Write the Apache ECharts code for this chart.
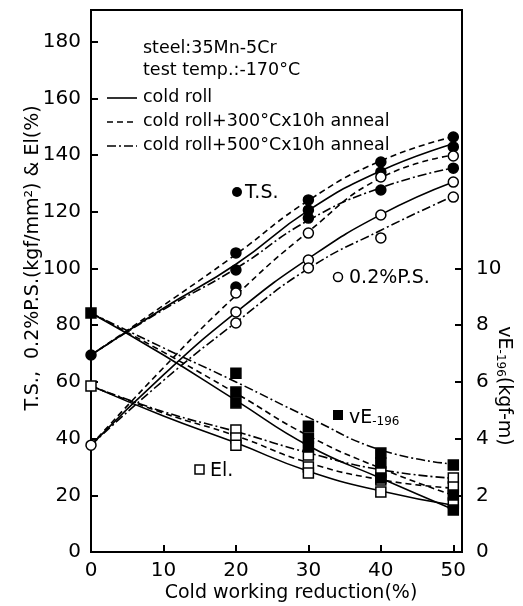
<!DOCTYPE html>
<html>
<head>
<meta charset="utf-8">
<script src="https://cdn.jsdelivr.net/npm/echarts@6/dist/echarts.min.js"></script>
<style>
  html, body { margin: 0; padding: 0; background: #fff; }
  #chart { width: 523px; height: 606px; }
</style>
</head>
<body>
<div id="chart"></div>
<script>
  // fitted curves at these reductions (%)
  var fitX = [0, 10, 20, 30, 40, 50];
  var tsRoll = [69.5, 86, 101.5, 120.5, 134.5, 144];
  var ts300 = [69.5, 87, 105, 124, 138, 146.5];
  var ts500 = [69.5, 85.5, 100, 117, 128.5, 135.5];
  var psRoll = [37.7, 62.5, 84.5, 103.5, 119, 130.5];
  var ps300 = [37.7, 65, 90.5, 113, 132, 140];
  var ps500 = [37.7, 60.5, 81, 100, 113.5, 125.5];
  var elRoll = [58.6, 48, 38.5, 28.5, 21.5, 16.5];
  var el300 = [58.6, 49, 41, 31.5, 25.5, 22.5];
  var el500 = [58.6, 49.5, 42.5, 35, 29, 26];
  var veRoll = [8.43, 6.95, 5.35, 3.75, 2.6, 1.5];
  var ve300 = [8.43, 7.05, 5.6, 4.1, 2.95, 2.0];
  var ve500 = [8.43, 7.2, 6.0, 4.75, 3.6, 3.1];

  // measured points
  var ptX = [0, 20, 20, 20, 30, 30, 30, 40, 40, 40, 50, 50, 50];
  var tsPts = [69.5, 105.5, 99.5, 93.5, 124.2, 120.6, 117.8, 137.6, 134, 127.7, 146.4, 142.9, 135.4];
  var psPts = [37.7, 91.4, 84.7, 80.8, 112.5, 103, 100.2, 132.3, 118.9, 110.8, 139.7, 130.5, 125.2];
  var elPts = [58.6, 43, 40.2, 37.7, 34.2, 30, 27.9, 28.2, 25.4, 21.2, 26.1, 22.9, 17.3];
  var vePts = [8.43, 6.31, 5.64, 5.26, 4.44, 4.02, 3.70, 3.49, 3.14, 2.61, 3.07, 2.01, 1.48];

  var xTicks = [0, 10, 20, 30, 40, 50];
  var leftTicks = [0, 20, 40, 60, 80, 100, 120, 140, 160, 180];
  var rightTicks = [0, 2, 4, 6, 8, 10];

  var FONT = 'DejaVu Sans';
  var DASH = [6, 4];
  var DASHDOT = [9, 3, 2, 3];

  function pairs(xs, ys) {
    return xs.map(function (x, i) { return [x, ys[i]]; });
  }

  function curve(name, ys, type, yAxis) {
    return {
      name: name,
      type: 'line',
      yAxisIndex: yAxis || 0,
      data: pairs(fitX, ys),
      smooth: 0.5,
      symbol: 'none',
      lineStyle: { color: '#000', width: 1.6, type: type },
      z: 2
    };
  }

  function points(name, ys, symbol, filled, yAxis) {
    return {
      name: name,
      type: 'scatter',
      yAxisIndex: yAxis || 0,
      data: pairs(ptX, ys),
      symbol: symbol,
      symbolSize: 10,
      itemStyle: {
        color: filled ? '#000' : '#fff',
        borderColor: '#000',
        borderWidth: 1.5,
        opacity: 1
      },
      z: 5
    };
  }

  function label(x, y, text, size) {
    return {
      type: 'text', x: x, y: y,
      style: { text: text, font: (size || 17.5) + 'px "' + FONT + '"', fill: '#000', verticalAlign: 'middle' }
    };
  }

  function legLine(y, dash) {
    return {
      type: 'line',
      shape: { x1: 107, y1: y, x2: 137, y2: y },
      style: { stroke: '#000', lineWidth: 1.6, lineDash: dash }
    };
  }

  var chart = echarts.init(document.getElementById('chart'));
  chart.setOption({
    backgroundColor: '#fff',
    animation: false,
    grid: {
      left: 91, right: 61, top: 10, bottom: 54,
      show: true, borderColor: '#000', borderWidth: 2, backgroundColor: 'transparent'
    },
    xAxis: {
      type: 'value', min: 0, max: 51.2,
      axisLine: { lineStyle: { color: '#000', width: 2 } },
      axisTick: { inside: true, length: 7, customValues: xTicks, lineStyle: { color: '#000', width: 2 } },
      axisLabel: { customValues: xTicks, margin: 9, color: '#000', fontSize: 20, fontFamily: FONT },
      splitLine: { show: false }
    },
    yAxis: [
      {
        type: 'value', min: 0, max: 191.2,
        axisLine: { show: true, lineStyle: { color: '#000', width: 2 } },
        axisTick: { show: true, inside: true, length: 7, customValues: leftTicks, lineStyle: { color: '#000', width: 2 } },
        axisLabel: { customValues: leftTicks, margin: 10, color: '#000', fontSize: 20, fontFamily: FONT },
        splitLine: { show: false }
      },
      {
        type: 'value', min: 0, max: 19.12, position: 'right',
        axisLine: { show: true, lineStyle: { color: '#000', width: 2 } },
        axisTick: { show: true, inside: true, length: 7, customValues: rightTicks, lineStyle: { color: '#000', width: 2 } },
        axisLabel: { customValues: rightTicks, margin: 14, color: '#000', fontSize: 20, fontFamily: FONT },
        splitLine: { show: false }
      }
    ],
    series: [
      curve('T.S. cold roll', tsRoll, 'solid'),
      curve('T.S. 300', ts300, DASH),
      curve('T.S. 500', ts500, DASHDOT),
      curve('P.S. cold roll', psRoll, 'solid'),
      curve('P.S. 300', ps300, DASH),
      curve('P.S. 500', ps500, DASHDOT),
      curve('El cold roll', elRoll, 'solid'),
      curve('El 300', el300, DASH),
      curve('El 500', el500, DASHDOT),
      curve('vE cold roll', veRoll, 'solid', 1),
      curve('vE 300', ve300, DASH, 1),
      curve('vE 500', ve500, DASHDOT, 1),
      points('T.S.', tsPts, 'circle', true),
      points('0.2%P.S.', psPts, 'circle', false),
      points('El.', elPts, 'rect', false),
      points('vE-196', vePts, 'rect', true, 1)
    ],
    graphic: [
      label(143, 48, 'steel:35Mn-5Cr'),
      label(143, 70, 'test temp.:-170°C'),
      label(143, 97, 'cold roll'),
      label(143, 121, 'cold roll+300°Cx10h anneal'),
      label(143, 145, 'cold roll+500°Cx10h anneal'),
      legLine(98, null),
      legLine(122, DASH),
      legLine(146, DASHDOT),
      { type: 'circle', shape: { cx: 237, cy: 192, r: 5 }, style: { fill: '#000' } },
      label(245, 193, 'T.S.', 19),
      { type: 'circle', shape: { cx: 338, cy: 277, r: 4.5 }, style: { fill: '#fff', stroke: '#000', lineWidth: 1.5 } },
      label(349, 278, '0.2%P.S.', 19),
      { type: 'rect', shape: { x: 333, y: 410, width: 10, height: 10 }, style: { fill: '#000' } },
      {
        type: 'text', x: 349, y: 416,
        style: {
          text: '{a|vE}{s|-196}', verticalAlign: 'middle', fill: '#000',
          rich: {
            a: { fontFamily: FONT, fontSize: 19, lineHeight: 24, verticalAlign: 'bottom' },
            s: { fontFamily: FONT, fontSize: 12, lineHeight: 24, verticalAlign: 'bottom', padding: [8, 0, 0, 0] }
          }
        }
      },
      { type: 'rect', shape: { x: 195, y: 465, width: 9, height: 9 }, style: { fill: '#fff', stroke: '#000', lineWidth: 1.5 } },
      label(210, 471, 'El.', 19),
      {
        type: 'text', x: 33, y: 258, rotation: Math.PI / 2,
        style: { text: 'T.S.,  0.2%P.S.(kgf/mm²) & El(%)', font: '19px "' + FONT + '"', fill: '#000', align: 'center', verticalAlign: 'middle' }
      },
      {
        type: 'text', x: 506, y: 386, rotation: -Math.PI / 2,
        style: {
          text: '{a|vE}{s|-196}{a|(kgf-m)}', align: 'center', verticalAlign: 'middle', fill: '#000',
          rich: {
            a: { fontFamily: FONT, fontSize: 19, lineHeight: 24, verticalAlign: 'bottom' },
            s: { fontFamily: FONT, fontSize: 12, lineHeight: 24, verticalAlign: 'bottom', padding: [8, 0, 0, 0] }
          }
        }
      },
      {
        type: 'text', x: 291, y: 593,
        style: { text: 'Cold working reduction(%)', font: '19px "' + FONT + '"', fill: '#000', align: 'center', verticalAlign: 'middle' }
      }
    ]
  });
</script>
</body>
</html>
